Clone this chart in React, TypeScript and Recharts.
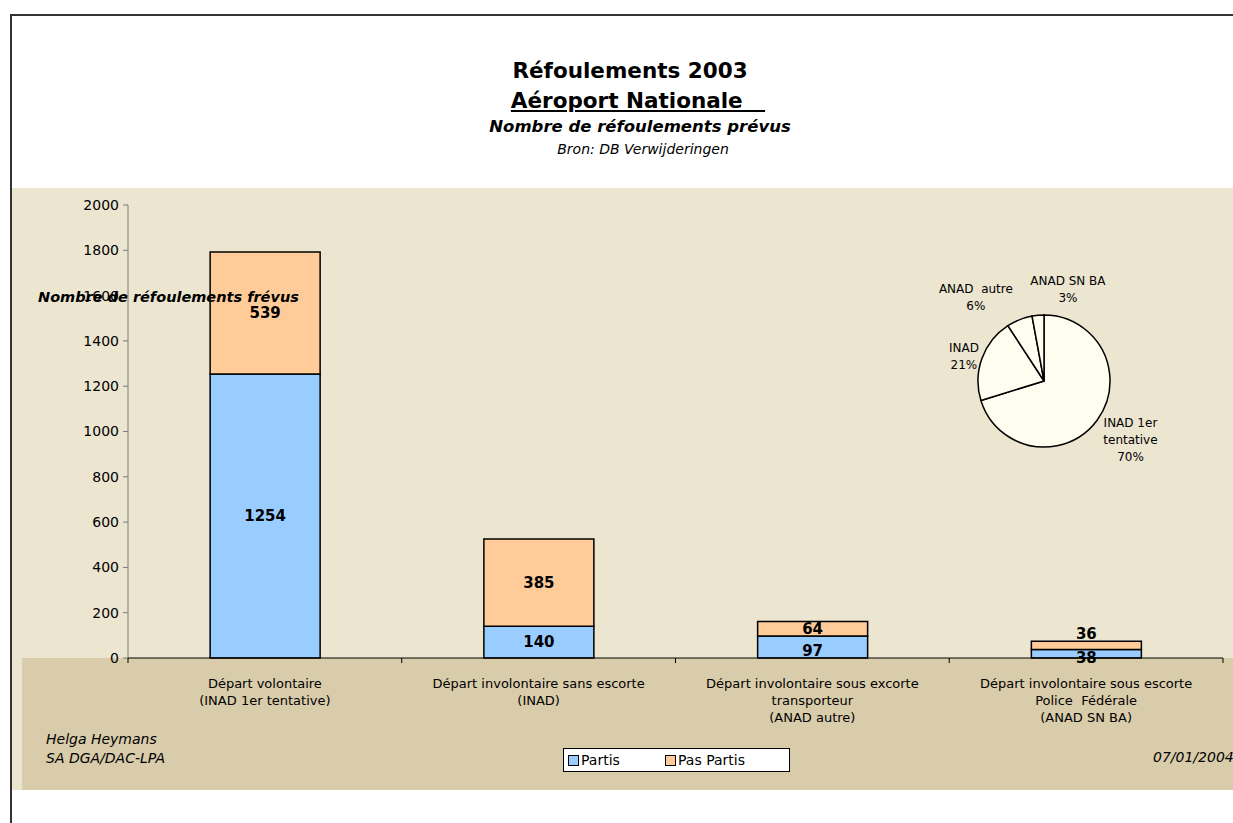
import React from "react";
import { BarChart, Bar, XAxis, YAxis, LabelList, PieChart, Pie, Cell } from "recharts";

const FONT = "'DejaVu Sans', Verdana, sans-serif";

// bar chart data
const categories = [
  "Départ volontaire\n(INAD 1er tentative)",
  "Départ involontaire sans escorte\n(INAD)",
  "Départ involontaire sous excorte\ntransporteur\n(ANAD autre)",
  "Départ involontaire sous escorte\nPolice  Fédérale\n(ANAD SN BA)",
];
const partis = [1254, 140, 97, 38];
const pasPartis = [539, 385, 64, 36];
const yTicks = [0, 200, 400, 600, 800, 1000, 1200, 1400, 1600, 1800, 2000];

// pie data (totals per category)
const pieLabels = ["INAD 1er\ntentative", "INAD", "ANAD  autre", "ANAD SN BA"];
const pieValues = [1793, 525, 161, 74];

const rows = categories.map((name, i) => ({ name, partis: partis[i], pasPartis: pasPartis[i] }));
const pieData = pieLabels.map((name, i) => ({ name, value: pieValues[i] }));

const W = 1233;
const H = 823;
const PLOT_LEFT = 128;
const PLOT_RIGHT = 1223;
const PLOT_BOTTOM = 658;
const BAND = (PLOT_RIGHT - PLOT_LEFT) / categories.length;

const BLUE = "#99CCFF";
const ORANGE = "#FFCC99";

function CategoryTick({ x, payload, index }: any) {
  const lines = String(payload.value).split("\n");
  const left = x - BAND / 2;
  return (
    <g>
      <line x1={left} y1={PLOT_BOTTOM} x2={left} y2={PLOT_BOTTOM + 5} stroke="#000" />
      {index === categories.length - 1 && (
        <line x1={left + BAND} y1={PLOT_BOTTOM} x2={left + BAND} y2={PLOT_BOTTOM + 5} stroke="#000" />
      )}
      <text textAnchor="middle" fontFamily={FONT} fontSize={13} fill="#000">
        {lines.map((l, i) => (
          <tspan key={i} x={x} y={PLOT_BOTTOM + 30 + i * 17} style={{ whiteSpace: "pre" }}>
            {l.replace(/  /g, "\u00a0 ")}
          </tspan>
        ))}
      </text>
    </g>
  );
}

function partisLabel({ x, y, width, height, value }: any) {
  const shift = height < 25 ? 4 : 0;
  return (
    <text x={x + width / 2} y={y + height / 2 + 5 + shift} textAnchor="middle"
      fontFamily={FONT} fontWeight="bold" fontSize={15} fill="#000">
      {value}
    </text>
  );
}

function pasPartisLabel({ x, y, width, height, value }: any) {
  const ty = height < 12 ? y - 2 : y + height / 2 + 5;
  return (
    <text x={x + width / 2} y={ty} textAnchor="middle"
      fontFamily={FONT} fontWeight="bold" fontSize={15} fill="#000">
      {value}
    </text>
  );
}

// small nudges, like the hand-moved labels of the original
const pieNudge = [[6, 0], [14, 9], [-31, 9], [33, 8]];

function pieLabel({ cx, cy, midAngle, outerRadius, percent, index }: any) {
  const RAD = Math.PI / 180;
  const r = outerRadius + 34;
  const px = cx + r * Math.cos(-midAngle * RAD) + pieNudge[index][0];
  const py = cy + r * Math.sin(-midAngle * RAD) + pieNudge[index][1];
  const lines = [...pieLabels[index].split("\n"), `${Math.round(percent * 100)}%`];
  const top = py - ((lines.length - 1) * 17) / 2 + 4;
  return (
    <text textAnchor="middle" fontFamily={FONT} fontSize={12} fill="#000">
      {lines.map((l, i) => (
        <tspan key={i} x={px} y={top + i * 17} style={{ whiteSpace: "pre" }}>
          {l.replace(/  /g, "\u00a0 ")}
        </tspan>
      ))}
    </text>
  );
}

function Centered({ cx, top, style, children }: any) {
  return (
    <div style={{ position: "absolute", left: 0, top, width: cx * 2, textAlign: "center", fontFamily: FONT, color: "#000", whiteSpace: "pre", ...style }}>
      {children}
    </div>
  );
}

export default function App() {
  return (
    <div style={{ position: "absolute", left: 0, top: 0, width: W, height: H, overflow: "hidden", background: "#fff" }}>
      {/* frame and panels */}
      <div style={{ position: "absolute", left: 10, top: 14, width: 1300, height: 900, borderLeft: "2px solid #333", borderTop: "2px solid #333" }} />
      <div style={{ position: "absolute", left: 12, top: 188, width: 1221, height: 602, background: "#ECE5D0" }} />
      <div style={{ position: "absolute", left: 22, top: 658, width: 1211, height: 132, background: "#D9CCAA" }} />

      {/* titles */}
      <Centered cx={630} top={57} style={{ fontSize: 21.5, fontWeight: "bold", lineHeight: "28px" }}>Réfoulements 2003</Centered>
      <Centered cx={638} top={87} style={{ fontSize: 21.5, fontWeight: "bold", lineHeight: "28px", textDecoration: "underline" }}>
        {"Aéroport Nationale\u00a0\u00a0\u00a0"}
      </Centered>
      <Centered cx={640} top={116} style={{ fontSize: 16.5, fontWeight: "bold", fontStyle: "italic", lineHeight: "22px" }}>
        Nombre de réfoulements prévus
      </Centered>
      <Centered cx={643} top={140} style={{ fontSize: 14, fontStyle: "italic", lineHeight: "18px" }}>
        Bron: DB Verwijderingen
      </Centered>

      <div style={{ position: "absolute", left: 0, top: 0 }}>
        <BarChart width={W} height={H} data={rows} barCategoryGap="30%"
          margin={{ top: 205, right: W - PLOT_RIGHT, left: PLOT_LEFT - 60, bottom: H - PLOT_BOTTOM - 80 }}>
          <YAxis width={60} domain={[0, 2000]} ticks={yTicks} interval={0} stroke="#7a7a7a"
            tickSize={5} tickMargin={4}
            tick={{ fontFamily: FONT, fontSize: 14, fill: "#000" }} />
          <XAxis dataKey="name" height={80} interval={0} tickLine={false} stroke="#000"
            tick={<CategoryTick />} />
          <Bar dataKey="partis" name="Partis" stackId="a" fill={BLUE} stroke="#000" strokeWidth={1.5} isAnimationActive={false}>
            <LabelList dataKey="partis" content={partisLabel} />
          </Bar>
          <Bar dataKey="pasPartis" name="Pas Partis" stackId="a" fill={ORANGE} stroke="#000" strokeWidth={1.5} isAnimationActive={false}>
            <LabelList dataKey="pasPartis" content={pasPartisLabel} />
          </Bar>
        </BarChart>
      </div>

      {/* y axis title, drawn over the ticks as in the original */}
      <div style={{ position: "absolute", left: 38, top: 289, fontFamily: FONT, fontSize: 14.5, fontWeight: "bold", fontStyle: "italic", whiteSpace: "pre" }}>
        Nombre de réfoulements frévus
      </div>

      {/* pie */}
      <div style={{ position: "absolute", left: 895, top: 246 }}>
        <PieChart width={300} height={260} margin={{ top: 0, right: 0, bottom: 0, left: 0 }}>
          <Pie data={pieData} dataKey="value" cx={149} cy={135} outerRadius={66}
            startAngle={90} endAngle={-270} stroke="#000" strokeWidth={1.5}
            label={pieLabel} labelLine={false} isAnimationActive={false}>
            {pieData.map((d) => (
              <Cell key={d.name} fill="#FFFCF0" />
            ))}
          </Pie>
        </PieChart>
      </div>

      {/* legend */}
      <div style={{ position: "absolute", left: 563, top: 748, width: 225, height: 22, background: "#fff", border: "1px solid #000", fontFamily: FONT, fontSize: 14 }}>
        {[["Partis", BLUE, 4], ["Pas Partis", ORANGE, 101]].map(([label, color, left]: any) => (
          <div key={label} style={{ position: "absolute", left, top: 3, display: "flex", alignItems: "center", lineHeight: "16px" }}>
            <span style={{ display: "inline-block", width: 9, height: 9, background: color, border: "1px solid #000", marginRight: 2 }} />
            {label}
          </div>
        ))}
      </div>

      {/* footer */}
      <div style={{ position: "absolute", left: 46, top: 730, fontFamily: FONT, fontSize: 14, fontStyle: "italic", lineHeight: "19px" }}>
        Helga Heymans<br />SA DGA/DAC-LPA
      </div>
      <div style={{ position: "absolute", left: 1153, top: 749, fontFamily: FONT, fontSize: 14, fontStyle: "italic", whiteSpace: "pre" }}>
        07/01/2004
      </div>
    </div>
  );
}
